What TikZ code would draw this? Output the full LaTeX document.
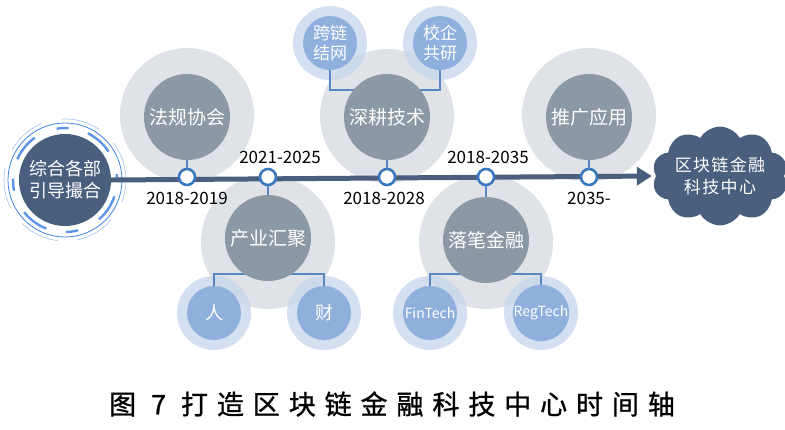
\documentclass[tikz,border=0pt]{standalone}
\usepackage{fontspec}
\setmainfont{Noto Sans CJK SC}
\newfontfamily\capfont[LetterSpace=33,FakeBold=1]{Noto Sans CJK SC}
\newfontfamily\cloudfont[LetterSpace=8]{Noto Sans CJK SC}
\usetikzlibrary{arrows.meta,positioning,shapes.symbols}
\definecolor{hubc}{HTML}{4A5E7D}
\definecolor{corec}{HTML}{8C99A4}
\definecolor{haloc}{HTML}{DFE2E6}
\definecolor{subc}{HTML}{8FB0DC}
\definecolor{subhaloc}{HTML}{C6D6EC}
\definecolor{linkc}{HTML}{5A86C4}
\definecolor{tickc}{HTML}{3B78C0}
\definecolor{ringc}{HTML}{3F82E4}
\tikzset{halo/.style={circle,fill=haloc,minimum size=134pt,inner sep=0pt},
 core/.style={circle,fill=corec,minimum size=86pt,inner sep=0pt,text=white,font=\fontsize{19}{21}\selectfont},
 sh/.style={circle,fill=subhaloc,fill opacity=.75,minimum size=74pt,inner sep=0pt},
 sub/.style={circle,fill=subc,minimum size=54pt,inner sep=0pt,text=white,align=center,font=\fontsize{17}{20}\selectfont},
 tick/.style={circle,draw=tickc,line width=2.6pt,fill=white,minimum size=16pt,inner sep=0pt},
 yr/.style={font=\fontsize{17}{19}\selectfont},
 link/.style={draw=linkc,line width=2.6pt},
 axis/.style={draw=hubc,line width=5pt,-{Triangle[length=15pt,width=18pt]},shorten >=4pt}}

\begin{document}
\begin{tikzpicture}[x=1pt,y=-1pt]
\useasboundingbox (0,0) rectangle (785,429);
\node[halo](h1) at (187,115){};\node[halo](h2) at (268,242){};\node[halo](h3) at (387,116){};
\node[halo](h4) at (486,242){};\node[halo](h5) at (589,115){};
\node[sh](sh1) at (330,43){};\node[sh](sh2) at (440,43){};
\node[sh](sh3) at (214,313){};\node[sh](sh4) at (324,313){};
\node[sh](sh5) at (430,313){};\node[sh](sh6) at (541,313){};
\draw[link]([yshift=-27pt]sh1.center)--++(0,20)-|([yshift=-27pt]sh2.center);
\draw[link]([yshift=27pt]sh3.center)--++(0,-12)-|([yshift=27pt]sh4.center);
\draw[link]([yshift=27pt]sh5.center)--++(0,-12)-|([yshift=27pt]sh6.center);
\node[circle,fill=hubc,minimum size=92pt,inner sep=0pt,text=white,align=center,font=\fontsize{18}{22}\selectfont](hub) at (65,180){综合各部\\引导撮合};
\draw[ringc,line width=.8pt] (hub.center) circle (57pt);
\draw[ringc!50,line width=.6pt,dash pattern=on 40pt off 20pt] (hub.center) circle (61pt);
\draw[ringc!85,line width=2.4pt,dash pattern=on 12pt off 24pt on 28pt off 20pt,dash phase=6pt] (hub.center) circle (52pt);
\node[cloud,cloud puffs=10,cloud puff arc=120,aspect=1.6,fill=hubc,text=white,align=center,
 minimum width=124pt,minimum height=76pt,inner sep=0pt,font=\cloudfont\fontsize{17}{22}\selectfont](cloud) at (720,176){区块链金融\\科技中心};
\draw[axis](hub.east)--(cloud.west);
\node[core](c1) at (187,117){法规协会};\node[core](c2) at (268,238){产业汇聚};
\node[core](c3) at (387,117){深耕技术};\node[core](c4) at (486,240){落笔金融};
\node[core](c5) at (589,117){推广应用};
\node[tick](t1) at (187,177){};\node[tick](t2) at (268,177){};\node[tick](t3) at (387,177){};
\node[tick](t4) at (486,177){};\node[tick](t5) at (589,177){};
\draw[link](c1)--(t1);\draw[link](t2)--(c2);\draw[link](c3)--(t3);\draw[link](t4)--(c4);\draw[link](c5)--(t5);
\node[sub](s1) at (sh1){跨链\\结网};\node[sub](s2) at (sh2){校企\\共研};
\node[sub,font=\fontsize{18}{20}\selectfont](s3) at (sh3){人};\node[sub,font=\fontsize{18}{20}\selectfont](s4) at (sh4){财};
\node[sub,font=\fontsize{14}{16}\selectfont](s5) at (sh5){FinTech};\node[sub,font=\fontsize{14}{16}\selectfont](s6) at (sh6){RegTech};
\node[yr] at (187,198){2018-2019};\node[yr] at (280,157){2021-2025};\node[yr] at (384,198){2018-2028};
\node[yr] at (488,157){2018-2035};\node[yr] at (589,198){2035-};
\node[font=\capfont\fontsize{27}{30}\selectfont](cap) at (392,404){图 7 打造区块链金融科技中心时间轴};
\end{tikzpicture}
\end{document}
